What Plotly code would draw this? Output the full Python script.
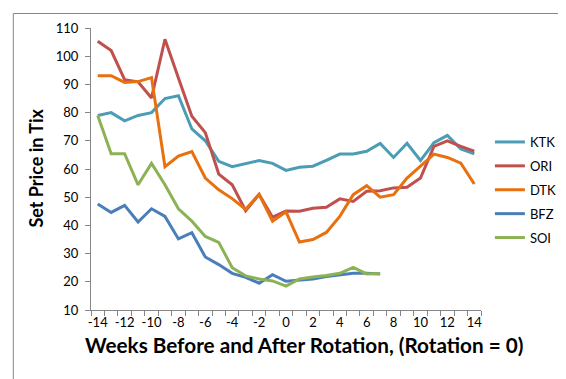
import plotly.graph_objects as go

weeks = list(range(-14, 15))
ktk = [79, 80, 77.1, 79, 80, 85, 86, 74.2, 70, 62.7, 60.8, 62, 63, 62, 59.5,
       60.6, 61, 63.1, 65.3, 65.3, 66.3, 69.1, 64.1, 69.1, 63, 69.3, 71.9, 67.1, 65.4]
ori = [105.3, 102, 91.7, 90.9, 85.2, 106, 92.3, 78.7, 72.9, 58.2, 54.4, 45.2, 51, 42.9, 45.1,
       45, 46.1, 46.4, 49.4, 48.5, 52.1, 52.3, 53.3, 53.5, 56.8, 68, 70, 68, 66.3]
dtk = [93.1, 93.1, 90.7, 91, 92.4, 60.8, 64.6, 66.2, 56.8, 52.6, 49.5, 45.7, 51, 41.5, 44.8,
       34.1, 35, 37.5, 43.2, 50.9, 54.1, 50, 50.9, 56.8, 61, 65.3, 64.1, 62.1, 54.7]
bfz = [47.6, 44.6, 47.1, 41.2, 45.9, 43.2, 35.2, 37.4, 28.8, 26.1, 23, 21.6, 19.5, 22.5, 20.2,
       20.6, 21, 21.9, 22.5, 23, 23, 22.8, None, None, None, None, None, None, None]
soi = [79, 65.4, 65.4, 54.4, 62, 54.4, 45.9, 41.5, 36.1, 34, 25, 22.1, 21, 20.3, 18.5,
       21, 21.7, 22.2, 23, 25.1, 22.8, 22.9, None, None, None, None, None, None, None]

series = [("KTK", ktk, "#4A9DB5"), ("ORI", ori, "#C0504D"), ("DTK", dtk, "#E8700F"),
          ("BFZ", bfz, "#4A7EBB"), ("SOI", soi, "#8DB255")]

x_ticks = list(range(-14, 15, 2))

FONT = "Lato"
fig = go.Figure()
for name, vals, col in series:
    fig.add_trace(go.Scatter(x=weeks, y=vals, name=name, mode="lines",
                             line=dict(color=col, width=3), legendgroup=name))

W, H = 566, 379
L, R, T, B = 83, 477, 20, 302
pw, ph = R - L, B - T

def px(xp):
    return (xp - L) / pw

def py(yp):
    return (B - yp) / ph

fig.update_layout(
    width=W, height=H,
    margin=dict(l=L, r=W - R, t=T, b=H - B),
    plot_bgcolor="white", paper_bgcolor="white",
    font=dict(family=FONT, size=13, color="black"),
    showlegend=True,
    legend=dict(x=px(486), y=py(119), xanchor="left", yanchor="top",
                font=dict(family=FONT, size=13, color="black"),
                tracegroupgap=4, itemwidth=30, bgcolor="rgba(0,0,0,0)"),
    xaxis=dict(range=[-14.5, 14.5], tickvals=x_ticks, ticktext=[str(v) for v in x_ticks],
               ticks="", showline=True, linecolor="#868686", linewidth=1,
               showgrid=False, zeroline=False, ticklabelstandoff=0,
               minor=dict(ticks="outside", tick0=-14.5, dtick=1, ticklen=5,
                          tickcolor="#868686", showgrid=False),
               tickfont=dict(family=FONT, size=13, color="black")),
    yaxis=dict(range=[10, 110], dtick=10, tick0=10, ticks="outside", ticklen=5,
               tickcolor="#868686", showline=True, linecolor="#868686", linewidth=1,
               showgrid=False, zeroline=False, ticklabelstandoff=4,
               tickfont=dict(family=FONT, size=13, color="black")),
    shapes=[dict(type="rect", xref="paper", yref="paper",
                 x0=px(4.5), x1=px(561.5), y0=py(372.5), y1=py(5.5),
                 line=dict(color="#868686", width=1), fillcolor="rgba(0,0,0,0)", layer="below")],
    annotations=[
        dict(text="Weeks Before and After Rotation, (Rotation = 0)", xref="paper", yref="paper",
             x=px(298), y=py(337), xanchor="center", yanchor="middle", showarrow=False,
             font=dict(family=FONT, size=20.7, color="black", weight="bold")),
        dict(text="Set Price in Tix", xref="paper", yref="paper",
             x=px(27), y=py(160), xanchor="center", yanchor="middle", showarrow=False,
             textangle=-90, font=dict(family=FONT, size=18, color="black", weight="bold")),
    ],
)

fig.write_html("out.html")
